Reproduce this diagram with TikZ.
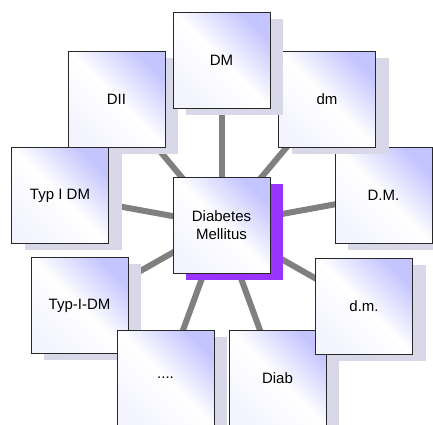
\documentclass[tikz,border=0pt]{standalone}
\usepackage{fontspec}
\setmainfont{Liberation Sans}
\usetikzlibrary{shadows,backgrounds}

\definecolor{cardlav}{RGB}{196,196,255}
\definecolor{cardshadow}{RGB}{216,216,232}
\definecolor{hubshadow}{RGB}{153,51,255}
\definecolor{spokegray}{RGB}{128,128,128}

\tikzset{
	every picture/.style={line width=0.75pt},
	card/.style={draw={rgb,255:red,40;green,40;blue,40}, minimum width=72.75pt, minimum height=72pt,
		inner sep=0pt, align=center, font=\fontsize{11.25}{14}\selectfont,
		top color=cardlav, bottom color=cardlav!18!white, middle color=white, shading angle=-45},
	term/.style={card, general shadow={fill=cardshadow, shadow xshift=9.75pt, shadow yshift=-4.9pt}},
	hub/.style={card, general shadow={fill=hubshadow, shadow xshift=9.75pt, shadow yshift=-4.9pt}},
	spoke/.style={draw=spokegray, line width=4.5pt}}

\begin{document}
\begin{tikzpicture}[x=0.75pt,y=0.75pt,yscale=-1,xscale=1]
	\useasboundingbox (0,0) rectangle (433,425);
	\clip (0,0) rectangle (433,425);

	% outer cards, back to front
	\node[term] (dii)     at (116.5,99)  {DII};
	\node[term] (typidm)  at (60,195.5)  {Typ I DM};
	\node[term] (typdash) at (79.5,305.5) {Typ-I-DM};
	\node[term] (dots)    at (165.5,378) {....};
	\node[term] (diab)    at (277.5,378) {Diab};
	\node[term] (dmlow)   at (364,306)   {d.m.};
	\node[term] (dmdot)   at (383.5,195.5) {D.M.};
	\node[term] (dmsmall) at (327,99)    {dm};
	\node[term] (dmtop)   at (221.5,60)  {DM};

	% centre card
	\node[hub] (hub) at (221.5,225) {Diabetes\\Mellitus};

	% spokes behind the cards
	\begin{pgfonlayer}{background}
		\foreach \n in {dii,typidm,typdash,dots,diab,dmlow,dmdot,dmsmall,dmtop}
			\draw[spoke] (hub.center) -- (\n.center);
	\end{pgfonlayer}

\end{tikzpicture}
\end{document}
